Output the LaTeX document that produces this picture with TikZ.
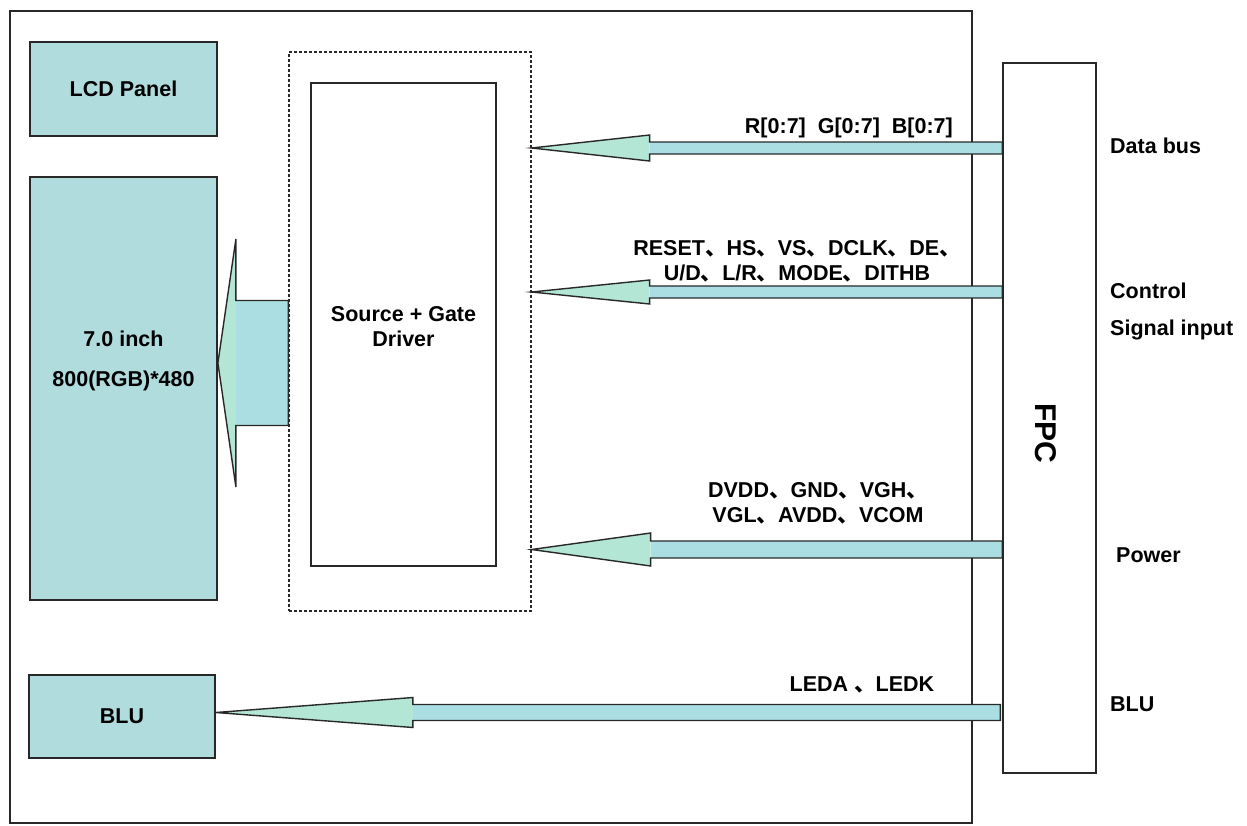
\documentclass[tikz,border=0pt]{standalone}
\usepackage{fontspec}
\setmainfont{Liberation Sans}
\newfontfamily\cjkfont{Noto Sans CJK SC}
\usetikzlibrary{calc}
\newcommand{\dn}{{\cjkfont 、}}
\definecolor{boxfill}{RGB}{176,220,221}
\definecolor{headfill}{RGB}{180,230,214}
\definecolor{shaftfill}{RGB}{170,222,226}
\definecolor{linec}{RGB}{40,40,40}
\newcommand{\blockarrow}[5]{%
  \fill[shaftfill] ($(#1)+(#3,-#4)$) rectangle ($(#2)+(0,#4)$);
  \fill[headfill] (#1) -- ($(#1)+(#3,-#5)$) -- ($(#1)+(#3,#5)$) -- cycle;
  \draw[busline] ($(#2)+(0,-#4)$) -- ($(#1)+(#3,-#4)$) -- ($(#1)+(#3,-#5)$) -- (#1) -- ($(#1)+(#3,#5)$) -- ($(#1)+(#3,#4)$) -- ($(#2)+(0,#4)$) -- cycle;
}
\begin{document}
\begin{tikzpicture}[x=1pt,y=-1pt,
  every node/.style={font=\fontsize{21.5}{25}\selectfont\bfseries, text=black},
  box/.style={draw=linec, line width=1.8pt, fill=boxfill, inner sep=0pt},
  plainbox/.style={draw=linec, line width=1.3pt, fill=white, inner sep=0pt},
  dashbox/.style={draw=linec, line width=1.3pt, dash pattern=on 3pt off 2pt, inner sep=0pt},
  framebox/.style={draw=linec, line width=1.3pt, inner sep=0pt},
  lbl/.style={anchor=west, inner sep=0pt},
  sig/.style={align=center, inner sep=0pt},
  busline/.style={draw=linec, line width=1.4pt, line join=miter},
]
\useasboundingbox (0,0) rectangle (1247,825);
\fill[white] (0,0) rectangle (1247,825);
% outer frame
\node[framebox, minimum width=962pt, minimum height=812pt] (frame) at (491,417) {};
% boxes
\node[box, minimum width=187pt, minimum height=94pt] (lcd) at (123.5,89) {LCD Panel};
\node[box, minimum width=187pt, minimum height=423pt] (panel) at (123.5,388.5) {};
\node[inner sep=0pt, align=center] (paneltext) at (123.5,361) {7.0 inch\\[15pt]800(RGB)*480};
\node[dashbox, minimum width=242pt, minimum height=559pt] (dash) at (410,331.5) {};
\node[plainbox, minimum width=185pt, minimum height=483pt] (drv) at (403.5,324.5) {};
\node[inner sep=0pt, align=center] (drvtext) at (403.5,326.5) {Source + Gate\\Driver};
\node[plainbox, minimum width=93pt, minimum height=710pt] (fpc) at (1049.5,418) {};
\node[rotate=-90, inner sep=0pt, font=\fontsize{30}{34}\selectfont\bfseries] (fpclabel) at (1046,433) {FPC};
\node[box, minimum width=186pt, minimum height=83pt] (blu) at (122,716.5) {BLU};
% block arrows
\coordinate (t0) at (panel.east |- 0,363);
\coordinate (e0) at (dash.west |- 0,363);
\blockarrow{t0}{e0}{18}{62.5}{124}
\coordinate (t1) at (dash.east |- 0,148);
\coordinate (e1) at (fpc.west |- 0,148);
\blockarrow{t1}{e1}{118}{6}{13}
\coordinate (t2) at (dash.east |- 0,292);
\coordinate (e2) at (fpc.west |- 0,292);
\blockarrow{t2}{e2}{118}{6}{12}
\coordinate (t3) at (dash.east |- 0,549.5);
\coordinate (e3) at (fpc.west |- 0,549.5);
\blockarrow{t3}{e3}{119}{8.5}{16.5}
\coordinate (t4) at (blu.east |- 0,712.5);
\coordinate (e4) at ($(fpc.west |- 0,712.5)+(-2,0)$);
\blockarrow{t4}{e4}{197}{8}{15}
% signal labels
\node[inner sep=0pt, anchor=east] (sdata) at (953,128) {R[0:7]\ \ G[0:7]\ \ B[0:7]};
\node[sig] (sctrl) at (797,261) {RESET\dn HS\dn VS\dn DCLK\dn DE\dn\\U/D\dn L/R\dn MODE\dn DITHB};
\node[sig] (spow) at (818,503) {DVDD\dn GND\dn VGH\dn\\VGL\dn AVDD\dn VCOM};
\node[inner sep=0pt] (sled) at (862,685) {LEDA \dn LEDK};
% right labels
\node[lbl] (ldata) at (1110,146) {Data bus};
\node[lbl] (lctrl) at (1110,291) {Control};
\node[lbl] (lsig) at (1110,330) {Signal input};
\node[lbl] (lpow) at (1116,555) {Power};
\node[lbl] (lblu) at (1110,704) {BLU};
\end{tikzpicture}
\end{document}
